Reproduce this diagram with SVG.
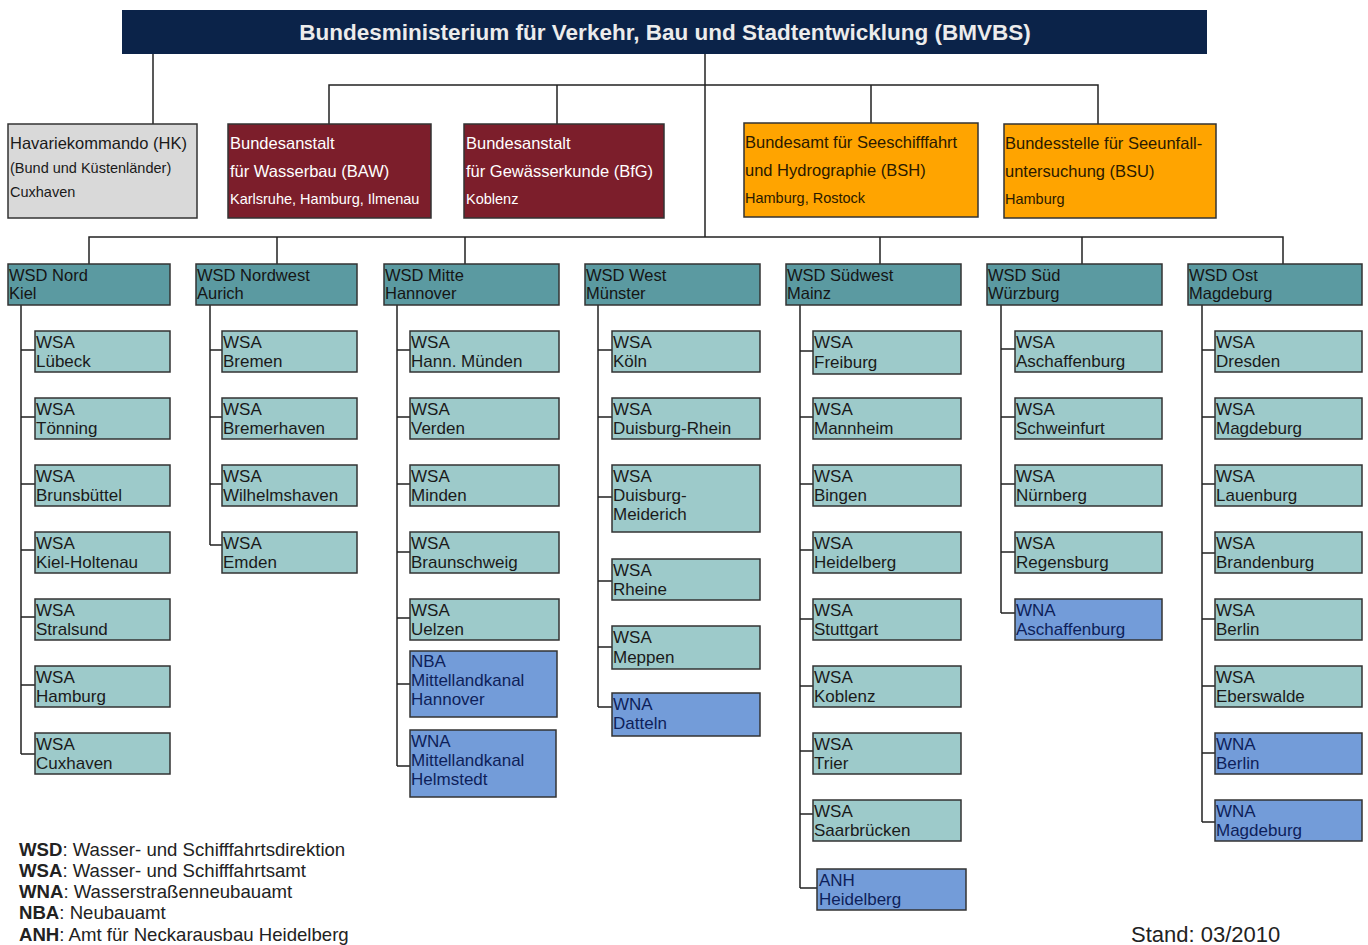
<svg xmlns="http://www.w3.org/2000/svg" width="1368" height="945" viewBox="0 0 1368 945">
<style>
text{font-family:"Liberation Sans",Arial,sans-serif;}
.bx{stroke:#333;stroke-width:1.5;}
.hdr{fill:#0b2349;}
.gray{fill:#d9d9d9;}
.red{fill:#7c1e2b;}
.org{fill:#ffa400;}
.wsd{fill:#5b9aa1;}
.wsa{fill:#9dcaca;}
.wna{fill:#739cd9;}
.ln{stroke:#222;stroke-width:1.5;fill:none;}
.ht{fill:#ececec;font-size:22.5px;font-weight:bold;}
.tb{font-size:16.5px;}
.ts{font-size:14.5px;}
.dk{fill:#1a1a1a;}
.wh{fill:#ffffff;}
.ot{fill:#2a1a00;}
.c{font-size:17px;fill:#1a1a1a;}
.cb{font-size:17px;fill:#0e1f5a;}
.w{font-size:16.5px;fill:#151515;}
.lg{font-size:18.6px;fill:#222;}
.st{font-size:22px;fill:#222;}
</style>

<g id="connectors">
  <path class="ln" d="M153 54V124"/>
  <path class="ln" d="M705 54V237"/>
  <path class="ln" d="M329 124V85H1098V124M557 85V124M871 85V124"/>
  <path class="ln" d="M89 264V237H1283V264M277 237V264M465 237V264M880 237V264M1082 237V264"/>
  <path class="ln" d="M21 305V754M21 350H35M21 417H35M21 484H35M21 550H35M21 617H35M21 685H35M21 754H35"/>
  <path class="ln" d="M210 305V545M210 350H222M210 417H222M210 484H222M210 545H222"/>
  <path class="ln" d="M397 305V766M397 350H410M397 417H410M397 484H410M397 552H410M397 618H410M397 684H410M397 766H410"/>
  <path class="ln" d="M598 305V707M598 350H612M598 417H612M598 497H612M598 581H612M598 647H612M598 707H612"/>
  <path class="ln" d="M800 305V888M800 351H813M800 417H813M800 484H813M800 550H813M800 619H813M800 686H813M800 751H813M800 814H813M800 888H817"/>
  <path class="ln" d="M1001 305V613M1001 349H1015M1001 417H1015M1001 484H1015M1001 552H1015M1001 613H1015"/>
  <path class="ln" d="M1202 305V822M1202 350H1215M1202 417H1215M1202 484H1215M1202 553H1215M1202 619H1215M1202 686H1215M1202 753H1215M1202 822H1215"/>
</g>

<g id="bmvbs">
  <rect class="hdr" x="122" y="10" width="1085" height="44"/>
  <text class="ht" x="665" y="40" text-anchor="middle">Bundesministerium für Verkehr, Bau und Stadtentwicklung (BMVBS)</text>
</g>

<g id="hk">
  <rect class="bx gray" x="8" y="124" width="189" height="94"/>
  <text class="tb dk" x="10" y="149">Havariekommando (HK)</text>
  <text class="ts dk" x="10" y="173">(Bund und Küstenländer)</text>
  <text class="ts dk" x="10" y="197">Cuxhaven</text>
</g>
<g id="baw">
  <rect class="bx red" x="228" y="124" width="203" height="94"/>
  <text class="tb wh" x="230" y="149">Bundesanstalt</text>
  <text class="tb wh" x="230" y="177">für Wasserbau (BAW)</text>
  <text class="ts wh" x="230" y="204">Karlsruhe, Hamburg, Ilmenau</text>
</g>
<g id="bfg">
  <rect class="bx red" x="464" y="124" width="200" height="94"/>
  <text class="tb wh" x="466" y="149">Bundesanstalt</text>
  <text class="tb wh" x="466" y="177">für Gewässerkunde (BfG)</text>
  <text class="ts wh" x="466" y="204">Koblenz</text>
</g>
<g id="bsh">
  <rect class="bx org" x="744" y="123" width="234" height="94"/>
  <text class="tb ot" x="745" y="148">Bundesamt für Seeschifffahrt</text>
  <text class="tb ot" x="745" y="176">und Hydrographie (BSH)</text>
  <text class="ts ot" x="745" y="203">Hamburg, Rostock</text>
</g>
<g id="bsu">
  <rect class="bx org" x="1004" y="124" width="212" height="94"/>
  <text class="tb ot" x="1005" y="149">Bundesstelle für Seeunfall-</text>
  <text class="tb ot" x="1005" y="177">untersuchung (BSU)</text>
  <text class="ts ot" x="1005" y="204">Hamburg</text>
</g>

<g id="wsd-nord"><rect class="bx wsd" x="8" y="264" width="162" height="41"/><text class="w" x="9" y="281">WSD Nord</text><text class="w" x="9" y="299">Kiel</text></g>
<g id="wsd-nordwest"><rect class="bx wsd" x="196" y="264" width="161" height="41"/><text class="w" x="197" y="281">WSD Nordwest</text><text class="w" x="197" y="299">Aurich</text></g>
<g id="wsd-mitte"><rect class="bx wsd" x="384" y="264" width="175" height="41"/><text class="w" x="385" y="281">WSD Mitte</text><text class="w" x="385" y="299">Hannover</text></g>
<g id="wsd-west"><rect class="bx wsd" x="585" y="264" width="175" height="41"/><text class="w" x="586" y="281">WSD West</text><text class="w" x="586" y="299">Münster</text></g>
<g id="wsd-suedwest"><rect class="bx wsd" x="786" y="264" width="175" height="41"/><text class="w" x="787" y="281">WSD Südwest</text><text class="w" x="787" y="299">Mainz</text></g>
<g id="wsd-sued"><rect class="bx wsd" x="987" y="264" width="175" height="41"/><text class="w" x="988" y="281">WSD Süd</text><text class="w" x="988" y="299">Würzburg</text></g>
<g id="wsd-ost"><rect class="bx wsd" x="1188" y="264" width="174" height="41"/><text class="w" x="1189" y="281">WSD Ost</text><text class="w" x="1189" y="299">Magdeburg</text></g>

<g id="wsa-luebeck"><rect class="bx wsa" x="35" y="331" width="135" height="41"/><text class="c" x="36" y="348">WSA</text><text class="c" x="36" y="367">Lübeck</text></g>
<g id="wsa-toenning"><rect class="bx wsa" x="35" y="398" width="135" height="41"/><text class="c" x="36" y="415">WSA</text><text class="c" x="36" y="434">Tönning</text></g>
<g id="wsa-brunsbuettel"><rect class="bx wsa" x="35" y="465" width="135" height="41"/><text class="c" x="36" y="482">WSA</text><text class="c" x="36" y="501">Brunsbüttel</text></g>
<g id="wsa-kiel-holtenau"><rect class="bx wsa" x="35" y="532" width="135" height="41"/><text class="c" x="36" y="549">WSA</text><text class="c" x="36" y="568">Kiel-Holtenau</text></g>
<g id="wsa-stralsund"><rect class="bx wsa" x="35" y="599" width="135" height="41"/><text class="c" x="36" y="616">WSA</text><text class="c" x="36" y="635">Stralsund</text></g>
<g id="wsa-hamburg"><rect class="bx wsa" x="35" y="666" width="135" height="41"/><text class="c" x="36" y="683">WSA</text><text class="c" x="36" y="702">Hamburg</text></g>
<g id="wsa-cuxhaven"><rect class="bx wsa" x="35" y="733" width="135" height="41"/><text class="c" x="36" y="750">WSA</text><text class="c" x="36" y="769">Cuxhaven</text></g>

<g id="wsa-bremen"><rect class="bx wsa" x="222" y="331" width="135" height="41"/><text class="c" x="223" y="348">WSA</text><text class="c" x="223" y="367">Bremen</text></g>
<g id="wsa-bremerhaven"><rect class="bx wsa" x="222" y="398" width="135" height="41"/><text class="c" x="223" y="415">WSA</text><text class="c" x="223" y="434">Bremerhaven</text></g>
<g id="wsa-wilhelmshaven"><rect class="bx wsa" x="222" y="465" width="135" height="41"/><text class="c" x="223" y="482">WSA</text><text class="c" x="223" y="501">Wilhelmshaven</text></g>
<g id="wsa-emden"><rect class="bx wsa" x="222" y="532" width="135" height="41"/><text class="c" x="223" y="549">WSA</text><text class="c" x="223" y="568">Emden</text></g>

<g id="wsa-hann-muenden"><rect class="bx wsa" x="410" y="331" width="149" height="41"/><text class="c" x="411" y="348">WSA</text><text class="c" x="411" y="367">Hann. Münden</text></g>
<g id="wsa-verden"><rect class="bx wsa" x="410" y="398" width="149" height="41"/><text class="c" x="411" y="415">WSA</text><text class="c" x="411" y="434">Verden</text></g>
<g id="wsa-minden"><rect class="bx wsa" x="410" y="465" width="149" height="41"/><text class="c" x="411" y="482">WSA</text><text class="c" x="411" y="501">Minden</text></g>
<g id="wsa-braunschweig"><rect class="bx wsa" x="410" y="532" width="149" height="41"/><text class="c" x="411" y="549">WSA</text><text class="c" x="411" y="568">Braunschweig</text></g>
<g id="wsa-uelzen"><rect class="bx wsa" x="410" y="599" width="149" height="41"/><text class="c" x="411" y="616">WSA</text><text class="c" x="411" y="635">Uelzen</text></g>
<g id="nba-mittellandkanal"><rect class="bx wna" x="410" y="651" width="147" height="66"/><text class="cb" x="411" y="667">NBA</text><text class="cb" x="411" y="686">Mittellandkanal</text><text class="cb" x="411" y="705">Hannover</text></g>
<g id="wna-helmstedt"><rect class="bx wna" x="410" y="730" width="146" height="67"/><text class="cb" x="411" y="747">WNA</text><text class="cb" x="411" y="766">Mittellandkanal</text><text class="cb" x="411" y="785">Helmstedt</text></g>

<g id="wsa-koeln"><rect class="bx wsa" x="612" y="331" width="148" height="41"/><text class="c" x="613" y="348">WSA</text><text class="c" x="613" y="367">Köln</text></g>
<g id="wsa-duisburg-rhein"><rect class="bx wsa" x="612" y="398" width="148" height="41"/><text class="c" x="613" y="415">WSA</text><text class="c" x="613" y="434">Duisburg-Rhein</text></g>
<g id="wsa-duisburg-meiderich"><rect class="bx wsa" x="612" y="465" width="148" height="67"/><text class="c" x="613" y="482">WSA</text><text class="c" x="613" y="501">Duisburg-</text><text class="c" x="613" y="520">Meiderich</text></g>
<g id="wsa-rheine"><rect class="bx wsa" x="612" y="559" width="148" height="41"/><text class="c" x="613" y="576">WSA</text><text class="c" x="613" y="595">Rheine</text></g>
<g id="wsa-meppen"><rect class="bx wsa" x="612" y="626" width="148" height="43"/><text class="c" x="613" y="643">WSA</text><text class="c" x="613" y="663">Meppen</text></g>
<g id="wna-datteln"><rect class="bx wna" x="612" y="693" width="148" height="43"/><text class="cb" x="613" y="710">WNA</text><text class="cb" x="613" y="729">Datteln</text></g>

<g id="wsa-freiburg"><rect class="bx wsa" x="813" y="331" width="148" height="43"/><text class="c" x="814" y="348">WSA</text><text class="c" x="814" y="368">Freiburg</text></g>
<g id="wsa-mannheim"><rect class="bx wsa" x="813" y="398" width="148" height="41"/><text class="c" x="814" y="415">WSA</text><text class="c" x="814" y="434">Mannheim</text></g>
<g id="wsa-bingen"><rect class="bx wsa" x="813" y="465" width="148" height="41"/><text class="c" x="814" y="482">WSA</text><text class="c" x="814" y="501">Bingen</text></g>
<g id="wsa-heidelberg"><rect class="bx wsa" x="813" y="532" width="148" height="41"/><text class="c" x="814" y="549">WSA</text><text class="c" x="814" y="568">Heidelberg</text></g>
<g id="wsa-stuttgart"><rect class="bx wsa" x="813" y="599" width="148" height="41"/><text class="c" x="814" y="616">WSA</text><text class="c" x="814" y="635">Stuttgart</text></g>
<g id="wsa-koblenz"><rect class="bx wsa" x="813" y="666" width="148" height="41"/><text class="c" x="814" y="683">WSA</text><text class="c" x="814" y="702">Koblenz</text></g>
<g id="wsa-trier"><rect class="bx wsa" x="813" y="733" width="148" height="41"/><text class="c" x="814" y="750">WSA</text><text class="c" x="814" y="769">Trier</text></g>
<g id="wsa-saarbruecken"><rect class="bx wsa" x="813" y="800" width="148" height="41"/><text class="c" x="814" y="817">WSA</text><text class="c" x="814" y="836">Saarbrücken</text></g>
<g id="anh-heidelberg"><rect class="bx wna" x="817" y="869" width="149" height="41"/><text class="cb" x="819" y="886">ANH</text><text class="cb" x="819" y="905">Heidelberg</text></g>

<g id="wsa-aschaffenburg"><rect class="bx wsa" x="1015" y="331" width="147" height="41"/><text class="c" x="1016" y="348">WSA</text><text class="c" x="1016" y="367">Aschaffenburg</text></g>
<g id="wsa-schweinfurt"><rect class="bx wsa" x="1015" y="398" width="147" height="41"/><text class="c" x="1016" y="415">WSA</text><text class="c" x="1016" y="434">Schweinfurt</text></g>
<g id="wsa-nuernberg"><rect class="bx wsa" x="1015" y="465" width="147" height="41"/><text class="c" x="1016" y="482">WSA</text><text class="c" x="1016" y="501">Nürnberg</text></g>
<g id="wsa-regensburg"><rect class="bx wsa" x="1015" y="532" width="147" height="41"/><text class="c" x="1016" y="549">WSA</text><text class="c" x="1016" y="568">Regensburg</text></g>
<g id="wna-aschaffenburg"><rect class="bx wna" x="1015" y="599" width="147" height="41"/><text class="cb" x="1016" y="616">WNA</text><text class="cb" x="1016" y="635">Aschaffenburg</text></g>

<g id="wsa-dresden"><rect class="bx wsa" x="1215" y="331" width="147" height="41"/><text class="c" x="1216" y="348">WSA</text><text class="c" x="1216" y="367">Dresden</text></g>
<g id="wsa-magdeburg"><rect class="bx wsa" x="1215" y="398" width="147" height="41"/><text class="c" x="1216" y="415">WSA</text><text class="c" x="1216" y="434">Magdeburg</text></g>
<g id="wsa-lauenburg"><rect class="bx wsa" x="1215" y="465" width="147" height="41"/><text class="c" x="1216" y="482">WSA</text><text class="c" x="1216" y="501">Lauenburg</text></g>
<g id="wsa-brandenburg"><rect class="bx wsa" x="1215" y="532" width="147" height="41"/><text class="c" x="1216" y="549">WSA</text><text class="c" x="1216" y="568">Brandenburg</text></g>
<g id="wsa-berlin"><rect class="bx wsa" x="1215" y="599" width="147" height="41"/><text class="c" x="1216" y="616">WSA</text><text class="c" x="1216" y="635">Berlin</text></g>
<g id="wsa-eberswalde"><rect class="bx wsa" x="1215" y="666" width="147" height="41"/><text class="c" x="1216" y="683">WSA</text><text class="c" x="1216" y="702">Eberswalde</text></g>
<g id="wna-berlin"><rect class="bx wna" x="1215" y="733" width="147" height="41"/><text class="cb" x="1216" y="750">WNA</text><text class="cb" x="1216" y="769">Berlin</text></g>
<g id="wna-magdeburg"><rect class="bx wna" x="1215" y="800" width="147" height="41"/><text class="cb" x="1216" y="817">WNA</text><text class="cb" x="1216" y="836">Magdeburg</text></g>

<g id="legend">
  <text class="lg" x="19" y="856"><tspan font-weight="bold">WSD</tspan>: Wasser- und Schifffahrtsdirektion</text>
  <text class="lg" x="19" y="877"><tspan font-weight="bold">WSA</tspan>: Wasser- und Schifffahrtsamt</text>
  <text class="lg" x="19" y="898"><tspan font-weight="bold">WNA</tspan>: Wasserstraßenneubauamt</text>
  <text class="lg" x="19" y="919"><tspan font-weight="bold">NBA</tspan>: Neubauamt</text>
  <text class="lg" x="19" y="941"><tspan font-weight="bold">ANH</tspan>: Amt für Neckarausbau Heidelberg</text>
</g>
<text id="stand" class="st" x="1131" y="942">Stand: 03/2010</text>
</svg>
